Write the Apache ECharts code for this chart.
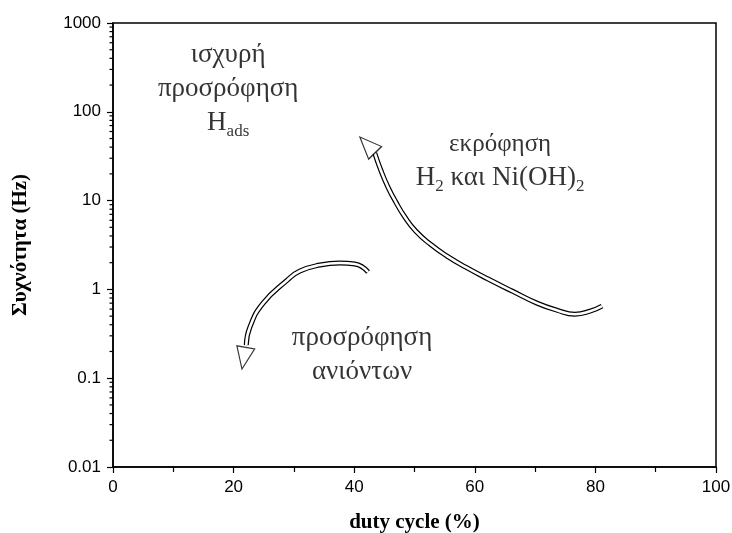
<!DOCTYPE html>
<html>
<head>
<meta charset="utf-8">
<script src="https://cdn.jsdelivr.net/npm/echarts@6/dist/echarts.min.js"></script>
<style>
  html, body { margin: 0; padding: 0; background: #fff; }
  #chart { width: 732px; height: 533px; }
</style>
</head>
<body>
<div id="chart"></div>
<script>
// 大箭头（尾 -> 头）：duty cycle (%) / 频率 (Hz)
const bigArrowX = [81.1, 79.1, 76.6, 73.6, 70.3, 66.2, 62.2, 58.5, 55.4, 52.6, 50.2, 48.4, 46.9, 45.6, 44.4, 43.4];
const bigArrowY = [0.648, 0.568, 0.526, 0.584, 0.701, 0.957, 1.31, 1.78, 2.37, 3.24, 4.54, 6.53, 9.64, 14.2, 22.1, 34.4];
const bigHead = [42.2, 42.4];

// 小箭头（尾 -> 头）
const smallArrowX = [42.3, 40.1, 37.6, 34.3, 31.0, 28.9, 24.9, 22.7, 22.1];
const smallArrowY = [1.57, 1.93, 1.98, 1.88, 1.61, 1.27, 0.70, 0.376, 0.236];
const smallHead = [21.7, 0.168];

// 注释文字
const notes = [
  { value: [19.1, 180], text: 'ισχυρή\nπροσρόφηση\nH{sub|ads}' },
  { value: [64.2, 27.9], text: '{e|εκρόφηση}\nH{sub|2} και Ni(OH){sub|2}' },
  { value: [41.3, 0.182], text: 'προσρόφηση\nανιόντων' }
];

// 坐标轴
const xTicks = [0, 20, 40, 60, 80, 100];
const yDecades = [0.01, 0.1, 1, 10, 100, 1000];
const yMinorSteps = [2, 3, 4, 5, 6, 7, 8, 9];

const minorTicks = [];
yDecades.slice(0, -1).forEach(d => {
  yMinorSteps.forEach(m => minorTicks.push([0, +(d * m).toPrecision(3)]));
});

const zip = (xs, ys) => xs.map((x, i) => [x, ys[i]]);

const chart = echarts.init(document.getElementById('chart'));

const serif = 'Liberation Serif';

function arrowBody(data) {
  return [
    {
      type: 'line', data: data, smooth: 0.5, symbol: 'none', silent: true, z: 3,
      lineStyle: { color: '#000', width: 5, cap: 'butt' }
    },
    {
      type: 'line', data: data, smooth: 0.5, symbol: 'none', silent: true, z: 4,
      lineStyle: { color: '#fff', width: 2.6, cap: 'butt' }
    }
  ];
}

function arrowHead(point, rotate) {
  return {
    type: 'scatter', data: [point], symbol: 'triangle', symbolSize: [18, 22],
    symbolRotate: rotate, silent: true, z: 5,
    itemStyle: { color: '#fff', borderColor: '#000', borderWidth: 1.2 }
  };
}

const option = {
  animation: false,
  backgroundColor: '#fff',
  grid: {
    left: 113, right: 16, top: 23, bottom: 66,
    outerBoundsMode: 'none', containLabel: false,
    show: true, borderColor: '#000', borderWidth: 1.5, backgroundColor: 'transparent'
  },
  xAxis: {
    type: 'value', min: xTicks[0], max: xTicks[xTicks.length - 1], interval: 20,
    name: 'duty cycle (%)', nameLocation: 'middle', nameGap: 45,
    nameTextStyle: { fontFamily: serif, fontWeight: 'bold', fontSize: 21, color: '#000' },
    axisLine: { lineStyle: { color: '#000', width: 1.5 } },
    axisTick: { length: 6, lineStyle: { color: '#000', width: 1.2 } },
    minorTick: { show: true, splitNumber: 2, length: 5, lineStyle: { color: '#000', width: 1.2 } },
    axisLabel: { fontFamily: 'Liberation Sans', fontSize: 17, color: '#000', margin: 12 },
    splitLine: { show: false }
  },
  yAxis: {
    type: 'log', logBase: 10, min: yDecades[0], max: yDecades[yDecades.length - 1],
    name: 'Συχνότητα (Hz)', nameLocation: 'middle', nameGap: 82,
    nameTextStyle: { fontFamily: serif, fontWeight: 'bold', fontSize: 21, color: '#000' },
    axisLine: { lineStyle: { color: '#000', width: 1.5 } },
    axisTick: { length: 6, lineStyle: { color: '#000', width: 1.2 } },
    axisLabel: {
      fontFamily: 'Liberation Sans', fontSize: 17, color: '#000', margin: 12,
      formatter: v => String(+v.toPrecision(3))
    },
    splitLine: { show: false }
  },
  series: [
    // 对数轴次刻度（2..9）
    {
      type: 'custom', data: minorTicks, silent: true, clip: false, z: 2,
      renderItem: (params, api) => {
        const p = api.coord([api.value(0), api.value(1)]);
        return {
          type: 'line',
          shape: { x1: p[0] - 3.5, y1: p[1], x2: p[0], y2: p[1] },
          style: { stroke: '#000', lineWidth: 1.2 }
        };
      }
    },
    ...arrowBody(zip(bigArrowX, bigArrowY)),
    arrowHead(bigHead, 44),
    ...arrowBody(zip(smallArrowX, smallArrowY)),
    arrowHead(smallHead, 170),
    {
      type: 'scatter', symbolSize: 0, silent: true, z: 6,
      data: notes.map(n => ({ value: n.value, text: n.text })),
      label: {
        show: true, position: 'inside', align: 'center', verticalAlign: 'middle',
        formatter: p => p.data.text,
        fontFamily: serif, fontSize: 27, lineHeight: 34, color: '#000',
        rich: {
          e: { fontFamily: serif, fontSize: 25, lineHeight: 34, color: '#000' },
          sub: { fontFamily: serif, fontSize: 17, lineHeight: 12, padding: [17, 0, 0, 0], color: '#000' }
        }
      }
    }
  ]
};

chart.setOption(option);
</script>
</body>
</html>
